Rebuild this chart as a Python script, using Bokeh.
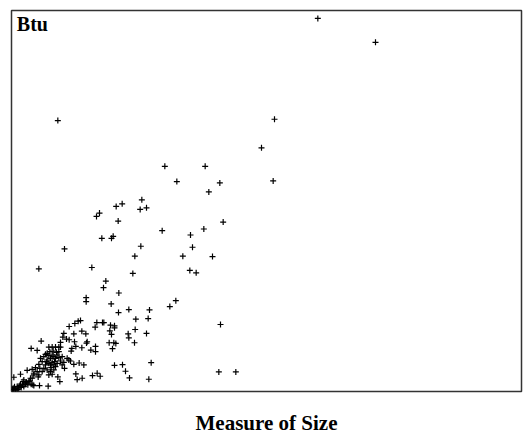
from bokeh.plotting import figure
from bokeh.models import Range1d, Label, Title
from bokeh.embed import file_html
from bokeh.resources import INLINE

# Measure of Size (x) and Btu (y), arbitrary units
measure_of_size = [
    919, 1092, 139, 789, 750, 460, 581, 496, 625, 785, 592, 391, 332, 314, 386, 405,
    264, 255, 320, 635, 452, 577, 537, 271, 300, 305, 388, 543, 159, 370, 514, 603,
    82, 241, 364, 535, 554, 283, 276, 322, 224, 224, 493, 475, 299, 352, 321, 414,
    627, 373, 410,
    277, 297, 309, 309, 295, 300, 371, 350, 352, 405, 293, 307, 313, 303, 369, 419,
    309, 333, 342, 354, 412, 622, 673,
    173, 190, 200, 207, 256, 273, 251, 187, 211, 223, 189, 193, 181, 179, 211, 227,
    225, 238, 252, 252, 243, 257, 266, 197, 212, 193, 217, 203, 187, 177, 159, 167,
    172, 157, 165, 173, 154, 147, 89, 59, 77, 112, 122, 132, 142, 147,
    87, 92, 97, 102, 107, 112, 117, 122, 127, 132, 137, 142, 147, 152, 107, 112,
    117, 122, 127, 102, 97, 107, 117, 122, 112, 127, 132, 92, 82, 85, 77, 72,
    115, 125, 135, 142, 105, 119, 129, 137, 152, 157, 82, 67, 57, 52, 42, 37,
    5, 9, 13, 17, 22, 25, 29, 33, 37, 41, 45, 49, 7, 12, 19, 3, 27, 35, 55, 59, 67, 62,
    7, 27, 47, 62, 67, 80, 64, 84, 110, 145, 139,
]
btu = [
    1125, 1053, 817, 821, 735, 679, 679, 633, 629, 635, 602, 578, 566, 558, 549, 554,
    538, 528, 514, 511, 485, 490, 472, 462, 462, 468, 438, 435, 430, 408, 408, 407,
    370, 374, 356, 365, 358, 333, 313, 297, 283, 271, 274, 256, 264, 247, 238, 246,
    202, 218, 220,
    208, 200, 198, 192, 183, 172, 187, 174, 162, 175, 147, 147, 145, 129, 147, 87,
    79, 81, 61, 41, 37, 59, 59,
    196, 205, 212, 214, 208, 208, 194, 174, 182, 174, 150, 136, 130, 122, 132, 150,
    146, 125, 136, 120, 48, 55, 46, 36, 40, 53, 80, 86, 82, 92, 70, 100,
    95, 175, 158, 156, 164, 148, 152, 130, 124, 134, 134, 134, 134, 134,
    100, 90, 105, 112, 115, 108, 100, 110, 105, 100, 110, 102, 92, 105, 95, 85,
    80, 88, 80, 80, 70, 65, 60, 52, 50, 65, 75, 60, 82, 70, 60, 72,
    120, 122, 118, 120, 90, 72, 90, 85, 80, 88, 50, 55, 40, 30, 25, 35,
    10, 14, 8, 15, 10, 18, 12, 20, 15, 22, 28, 20, 5, 4, 6, 6, 22, 30, 32, 22, 18, 40,
    43, 52, 64, 67, 50, 44, 20, 18, 16, 30, 44,
]

x_label = "Measure of Size"
y_label = "Btu"

p = figure(width=523, height=435, output_backend="svg", toolbar_location=None,
           x_range=Range1d(0, 1530), y_range=Range1d(0, 1149),
           x_axis_type=None, y_axis_type=None,
           min_border_left=11, min_border_right=2, min_border_top=10, min_border_bottom=42)
p.grid.visible = False
p.outline_line_color = "#333333"
p.outline_line_width = 1.5
p.background_fill_color = "white"
p.border_fill_color = "white"

p.scatter(measure_of_size, btu, marker="cross", size=6, line_color="black", line_width=1.2)

p.add_layout(Label(x=16, y=1140, text=y_label, text_font="Liberation Serif",
                   text_font_style="bold", text_font_size="20px", text_baseline="top",
                   text_color="black"))
# spacer between frame and the x label
p.add_layout(Title(text=" ", text_font_size="1px", standoff=14, text_color="white"), "below")
p.add_layout(Title(text=x_label, text_font="Liberation Serif", text_font_style="bold",
                   text_font_size="21px", align="center", offset=12, standoff=1,
                   text_color="black", vertical_align="bottom"), "below")

open("out.html", "w").write(file_html(p, INLINE))
